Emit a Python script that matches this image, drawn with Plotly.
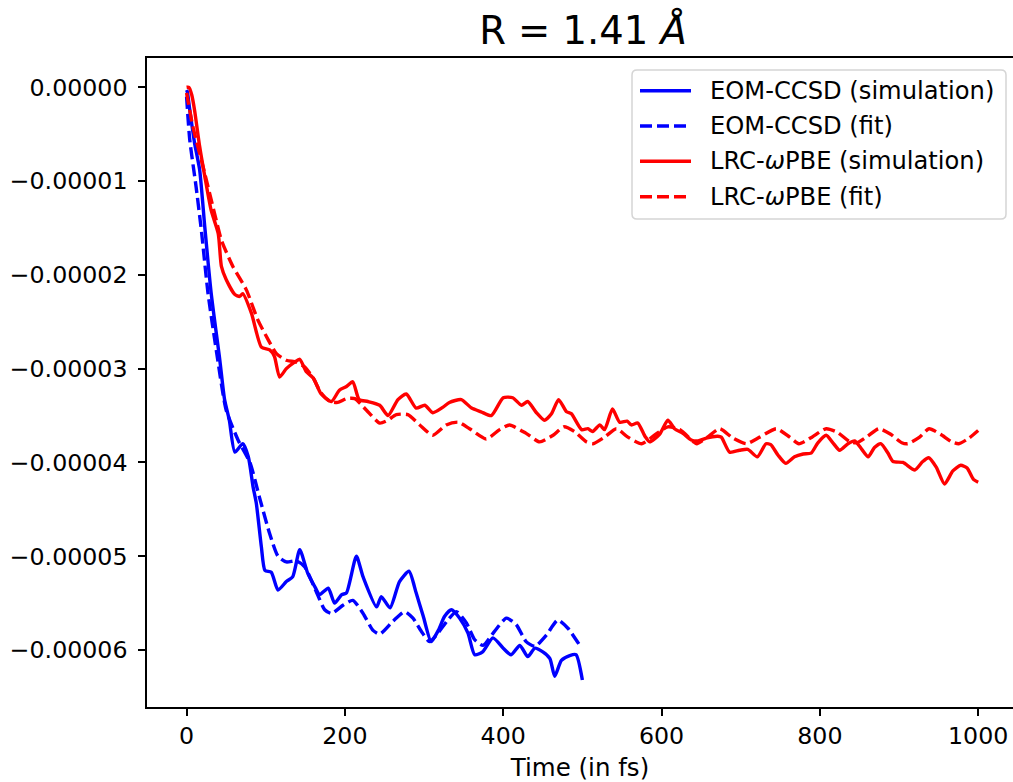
import plotly.graph_objects as go

SCALE = 1e-5  # values below are in units of 1e-5

# EOM-CCSD (simulation)
eom_sim_t = [0, 1, 4, 10, 16.5, 23, 31, 42, 48, 54, 61, 71, 78, 84, 88, 94.5, 99, 107, 115.5, 126,
             134, 143, 153, 163, 168, 179, 187, 196, 202, 214.5, 223, 240, 246, 257, 269, 281, 290, 299, 309, 318,
             326, 334.5, 345, 355.5, 364, 374, 387, 400, 410, 421, 431, 440, 450, 459, 465, 473.5, 484, 492, 500]
eom_sim_v = [-0.03, -0.05, -0.24, -0.59, -0.88, -1.49, -2.19, -2.91, -3.33, -3.55, -3.89, -3.80, -3.94, -4.26, -4.43, -4.90, -5.15, -5.17, -5.36, -5.27,
             -5.22, -4.93, -5.18, -5.34, -5.41, -5.34, -5.50, -5.41, -5.39, -5.00, -5.22, -5.54, -5.43, -5.55, -5.27, -5.16, -5.39, -5.64, -5.91, -5.79,
             -5.64, -5.57, -5.66, -5.82, -6.05, -6.02, -5.87, -5.98, -6.05, -5.95, -6.07, -5.98, -6.02, -6.09, -6.28, -6.11, -6.06, -6.05, -6.32]

# EOM-CCSD (fit)
eom_fit_t = [0, 4, 12, 19, 27, 38, 50, 65, 80, 92, 105, 115.5, 126, 139, 149, 164, 174.5, 183, 198, 210,
             223, 235.5, 244, 261, 275.5, 286, 296.5, 307, 317.5, 330, 341, 353.5, 364, 374.5, 389, 404, 416.5, 429, 440, 454.5,
             469, 482, 497, 500]
eom_fit_v = [-0.10, -0.56, -1.06, -1.55, -2.19, -2.83, -3.44, -3.76, -4.00, -4.37, -4.76, -5.00, -5.06, -5.05, -5.11, -5.38, -5.57, -5.61, -5.52, -5.47,
             -5.61, -5.79, -5.83, -5.69, -5.59, -5.66, -5.80, -5.91, -5.82, -5.68, -5.59, -5.71, -5.89, -5.95, -5.80, -5.66, -5.73, -5.91, -5.96, -5.84,
             -5.68, -5.77, -5.95, -5.97]

# LRC-wPBE (simulation)
lrc_sim_t = [0, 3, 6.5, 10, 16.5, 23, 31, 40, 44, 50, 61, 67, 71, 82, 94.5, 105, 111, 117.5, 126, 136.5,
             143, 151, 160, 170, 183, 193, 202, 210, 218, 229, 244, 254.5, 267, 277.5, 290, 301, 311, 324, 332, 347,
             360, 372, 385, 400, 412, 423, 431, 442, 452, 461, 470, 480, 486, 499, 507, 513, 522, 528, 538, 547,
             556.5, 562, 570, 579, 585, 597.5, 608, 616.5, 627, 637.5, 646, 656.5, 671, 675.5, 686, 698.5, 709, 721, 732, 738,
             747, 757, 768, 779, 789, 797.5, 808, 816.5, 825, 835.5, 844, 853, 861, 869, 877, 886, 892.5, 905, 920, 930,
             937.5, 947, 957.5, 968, 978, 986, 994, 1000]
lrc_sim_v = [0.00, 0.00, -0.08, -0.24, -0.63, -0.95, -1.31, -1.56, -1.91, -2.05, -2.21, -2.23, -2.20, -2.41, -2.77, -2.80, -2.87, -3.09, -3.00, -2.93,
             -2.90, -3.03, -3.10, -3.27, -3.35, -3.23, -3.19, -3.14, -3.33, -3.35, -3.39, -3.50, -3.33, -3.27, -3.42, -3.39, -3.47, -3.41, -3.36, -3.33,
             -3.42, -3.46, -3.50, -3.31, -3.31, -3.39, -3.35, -3.47, -3.55, -3.48, -3.33, -3.46, -3.48, -3.65, -3.64, -3.67, -3.60, -3.65, -3.43, -3.57,
             -3.56, -3.60, -3.58, -3.72, -3.78, -3.70, -3.55, -3.64, -3.69, -3.76, -3.77, -3.74, -3.72, -3.73, -3.89, -3.87, -3.86, -3.94, -3.80, -3.81,
             -3.92, -4.01, -3.94, -3.91, -3.90, -3.79, -3.71, -3.79, -3.87, -3.80, -3.77, -3.86, -3.94, -3.84, -3.80, -3.90, -3.99, -4.00, -4.08, -3.99,
             -3.95, -4.05, -4.23, -4.09, -4.03, -4.06, -4.18, -4.21]

# LRC-wPBE (fit)
lrc_fit_t = [0, 8, 23, 37.5, 44, 58.5, 75.5, 90, 103, 113.5, 126, 138.5, 149, 160, 170, 181, 191, 202, 212.5, 227,
             244, 254, 265, 279.5, 294.5, 311, 328, 343, 357.5, 378.5, 395.5, 408, 429, 446, 463, 476.5, 490, 505, 513.5, 528,
             543, 557.5, 575, 591, 608, 623, 640.5, 644.5, 658, 673.5, 690, 707, 724, 745, 762, 773.5, 790, 808, 822.5, 838,
             847, 860.5, 874.5, 889.5, 903.5, 911, 926, 938, 952.5, 966.5, 975.5, 988.5, 1000]
lrc_fit_v = [-0.06, -0.42, -0.92, -1.42, -1.63, -1.91, -2.16, -2.48, -2.69, -2.84, -2.91, -2.93, -2.98, -3.10, -3.26, -3.35, -3.36, -3.32, -3.32, -3.44,
             -3.58, -3.55, -3.49, -3.49, -3.60, -3.71, -3.60, -3.57, -3.64, -3.75, -3.65, -3.60, -3.69, -3.78, -3.71, -3.62, -3.67, -3.78, -3.80, -3.73,
             -3.64, -3.73, -3.80, -3.71, -3.62, -3.65, -3.78, -3.80, -3.73, -3.64, -3.74, -3.80, -3.73, -3.64, -3.73, -3.80, -3.73, -3.64, -3.68, -3.78,
             -3.79, -3.72, -3.64, -3.70, -3.79, -3.80, -3.73, -3.64, -3.70, -3.78, -3.80, -3.74, -3.66]

x_ticks = [0, 200, 400, 600, 800, 1000]
y_ticks = [0, -1, -2, -3, -4, -5, -6]

FONT = "DejaVu Sans"
DASH = "12px,5px"
LW = 3.4

W, H = 1013, 782
ML, MR, MT, MB = 147, 0, 58, 75
PW, PH = W - ML - MR, H - MT - MB


def px2paper_x(px):
    return (px - ML) / PW


def px2paper_y(py):
    return (H - MB - py) / PH


series = [
    ("EOM-CCSD (simulation)", eom_sim_t, eom_sim_v, "#0000ff", "solid"),
    ("EOM-CCSD (fit)", eom_fit_t, eom_fit_v, "#0000ff", DASH),
    ("LRC-<i>ω</i>PBE (simulation)", lrc_sim_t, lrc_sim_v, "#ff0000", "solid"),
    ("LRC-<i>ω</i>PBE (fit)", lrc_fit_t, lrc_fit_v, "#ff0000", DASH),
]

fig = go.Figure()
for name, t, v, color, dash in series:
    fig.add_trace(go.Scatter(
        x=t, y=[val * SCALE for val in v], mode="lines", name=name, showlegend=False,
        line=dict(color=color, width=LW, dash=dash, shape="spline", smoothing=0.6),
    ))

# legend drawn as layout shapes / annotations (matplotlib-like legend)
shapes = []
annotations = []
box_l, box_r, box_t, box_b, rad = 632, 1006, 70, 219, 5
x0, x1 = px2paper_x(box_l), px2paper_x(box_r)
y0, y1 = px2paper_y(box_b), px2paper_y(box_t)
rx, ry = rad / PW, rad / PH
path = (f"M {x0+rx},{y1} L {x1-rx},{y1} Q {x1},{y1} {x1},{y1-ry} "
        f"L {x1},{y0+ry} Q {x1},{y0} {x1-rx},{y0} L {x0+rx},{y0} "
        f"Q {x0},{y0} {x0},{y0+ry} L {x0},{y1-ry} Q {x0},{y1} {x0+rx},{y1} Z")
shapes.append(dict(type="path", xref="paper", yref="paper", path=path,
                   fillcolor="rgba(255,255,255,0.8)", line=dict(color="#d5d5d5", width=1.5), layer="above"))
row_y = [90.7, 126.0, 161.3, 196.7]
for (name, _, _, color, dash), ry_px in zip(series, row_y):
    yy = px2paper_y(ry_px)
    shapes.append(dict(type="line", xref="paper", yref="paper",
                       x0=px2paper_x(640), x1=px2paper_x(691), y0=yy, y1=yy,
                       line=dict(color=color, width=LW, dash=dash), layer="above"))
    annotations.append(dict(text=name, xref="paper", yref="paper", x=px2paper_x(708), y=yy,
                            xanchor="left", yanchor="middle", showarrow=False,
                            font=dict(family=FONT, size=24.2, color="black")))

fig.update_layout(
    width=W, height=H,
    margin=dict(l=ML, r=MR, t=MT, b=MB),
    paper_bgcolor="white", plot_bgcolor="white",
    font=dict(family=FONT, size=23.7, color="black"),
    title=dict(text="R = 1.41 <i>Å</i>", x=0.5035, xref="paper", xanchor="center",
               y=1 - 31 / 782, yref="container", yanchor="middle",
               font=dict(family=FONT, size=38.5, color="black")),
    showlegend=False,
    shapes=shapes,
    annotations=annotations,
)

fig.update_xaxes(
    range=[-50, 1044], tickvals=x_ticks, ticktext=[str(v) for v in x_ticks],
    showgrid=False, zeroline=False, showline=True, linecolor="black", linewidth=1.5,
    mirror=True, ticks="outside", ticklen=7, tickwidth=1.5, tickcolor="black",
    tickfont=dict(family=FONT, size=23.7),
    title=dict(text="Time (in fs)", standoff=13, font=dict(family=FONT, size=24.5)),
)
fig.update_yaxes(
    range=[-6.607e-5, 3.12e-6], tickvals=[v * SCALE for v in y_ticks],
    tickformat=".5f", ticklabelstandoff=6,
    tickfont=dict(family=FONT, size=23.7),
    showgrid=False, zeroline=False, showline=True, linecolor="black", linewidth=1.5,
    mirror=False, ticks="outside", ticklen=7, tickwidth=1.5, tickcolor="black",
)

fig.write_html("out.html")
